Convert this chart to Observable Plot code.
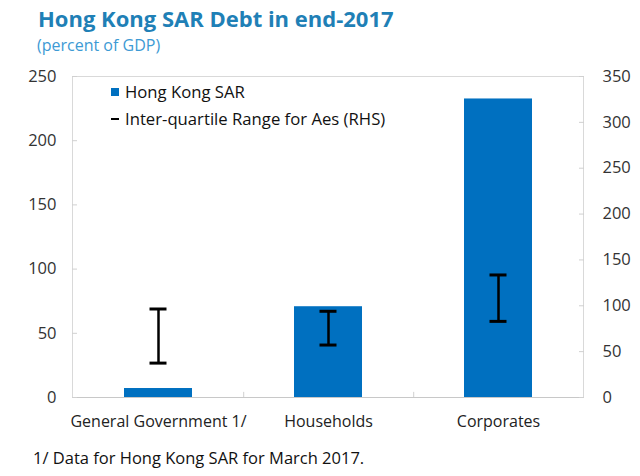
<!DOCTYPE html>
<html>
<head>
<meta charset="utf-8">
<script src="https://cdn.jsdelivr.net/npm/d3@7"></script>
<script src="https://cdn.jsdelivr.net/npm/@observablehq/plot@0.6"></script>
<style>
  body { margin: 0; background: #fff; font-family: "Open Sans", sans-serif; }
  #wrap { position: relative; width: 640px; height: 476px; }
  #title { position: absolute; left: 38px; top: 3px; font-size: 22px; font-weight: bold; color: #1f80b6; }
  #subtitle { position: absolute; left: 37px; top: 34px; font-size: 16px; color: #3d9ad4; }
  #chart { position: absolute; left: 0; top: 58px; }
  .leg { position: absolute; left: 111px; font-size: 16.7px; color: #111; display: flex; align-items: center; line-height: 20px; }
  .sw { display: inline-block; width: 8px; height: 8px; background: #0070c0; margin-right: 6px; }
  .dash { display: inline-block; width: 8px; height: 2.5px; background: #000; margin-right: 6px; }
  #foot { position: absolute; left: 33px; top: 446px; font-size: 16.5px; color: #111; }
</style>
</head>
<body>
<div id="wrap">
  <div id="title">Hong Kong SAR Debt in end-2017</div>
  <div id="subtitle">(percent of GDP)</div>
  <div id="chart"></div>
  <div class="leg" style="top:82px"><span class="sw"></span>Hong Kong SAR</div>
  <div class="leg" style="top:109px"><span class="dash"></span>Inter-quartile Range for Aes (RHS)</div>
  <div id="foot">1/ Data for Hong Kong SAR for March 2017.</div>
</div>
<script>
const categories = ["General Government 1/", "Households", "Corporates"];
const hkValues = [7, 70.7, 232.5];           // LHS, percent of GDP
const iqrLow = [37.5, 57.2, 83];             // RHS
const iqrHigh = [96.5, 94, 133.6];           // RHS
const leftTicks = [0, 50, 100, 150, 200, 250];
const rightTicks = [0, 50, 100, 150, 200, 250, 300, 350];

const LMAX = 250, RMAX = 350;
const toL = v => v * LMAX / RMAX;

const bars = categories.map((c, i) => ({cat: c, value: hkValues[i]}));
const iqr = categories.map((c, i) => ({cat: c, lo: toL(iqrLow[i]), hi: toL(iqrHigh[i])}));
const boundaries = categories.slice(0, -1);

const font = "'Open Sans', sans-serif";

const chart = Plot.plot({
  width: 640,
  height: 379,
  marginTop: 18,
  marginBottom: 40,
  marginLeft: 72,
  marginRight: 57,
  style: {fontFamily: font, fontSize: "15px", color: "#222", background: "transparent"},
  x: {domain: categories, paddingInner: 0.6, paddingOuter: 0.3, label: null},
  y: {domain: [0, LMAX], label: null},
  marks: [
    Plot.frame({stroke: "#d9d9d9"}),
    Plot.barY(bars, {x: "cat", y: "value", fill: "#0070c0"}),
    Plot.ruleX(iqr, {x: "cat", y1: "lo", y2: "hi", stroke: "#000", strokeWidth: 2.5}),
    Plot.tickY(iqr, {x: "cat", y: "lo", stroke: "#000", strokeWidth: 3, insetLeft: 25.5, insetRight: 25.5}),
    Plot.tickY(iqr, {x: "cat", y: "hi", stroke: "#000", strokeWidth: 3, insetLeft: 25.5, insetRight: 25.5}),
    Plot.ruleX(boundaries, {x: d => d, dx: 85.2, y1: 0, y2: 4, stroke: "#d0d0d0"}),
    Plot.ruleY([0], {stroke: "#c8c8c8"}),
    Plot.axisY({anchor: "left", ticks: leftTicks, tickSize: -5, tickPadding: 21, stroke: "#d0d0d0", fontSize: 16.5, fill: "#333"}),
    Plot.axisY({anchor: "right", ticks: rightTicks.map(toL), tickFormat: d => String(Math.round(d * RMAX / LMAX)), tickSize: -5, tickPadding: 24, stroke: "#d0d0d0", fontSize: 16.5, fill: "#333"}),
    Plot.axisX({tickSize: 0, tickPadding: 18, fontSize: 16, fill: "#222"})
  ]
});
document.getElementById("chart").appendChild(chart);
</script>
</body>
</html>
